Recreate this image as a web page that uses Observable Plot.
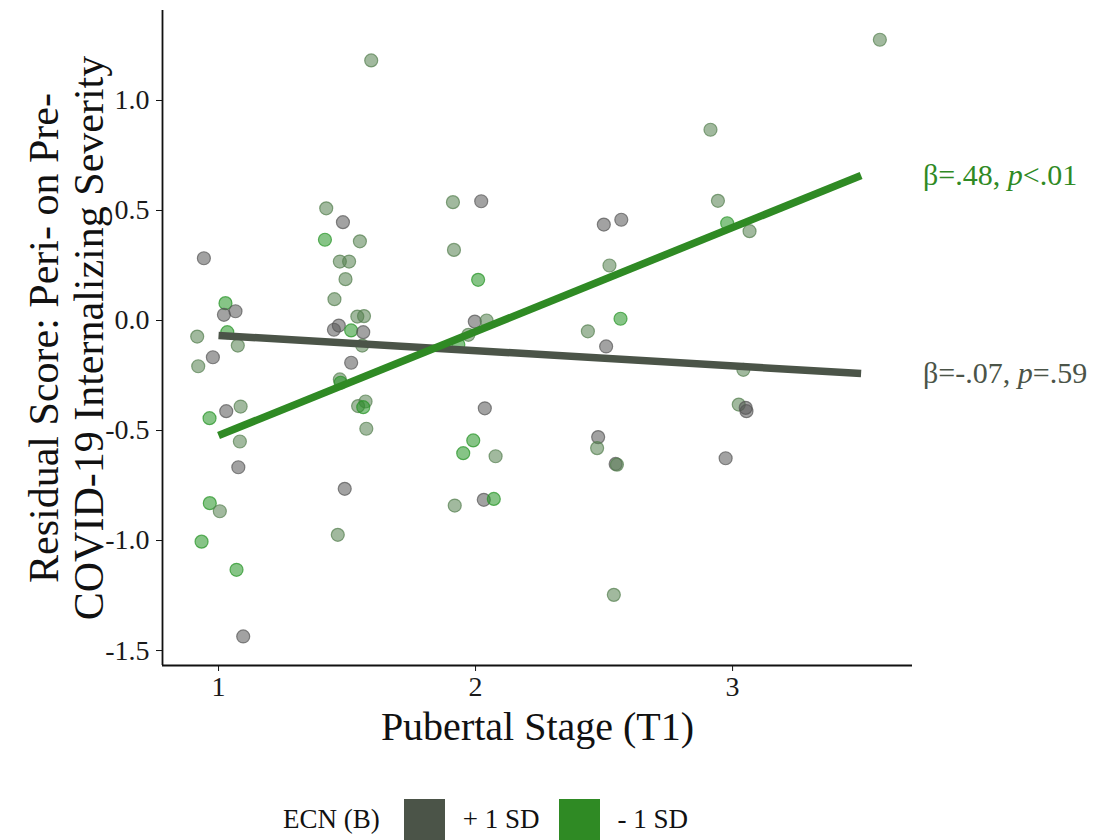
<!DOCTYPE html>
<html>
<head>
<meta charset="utf-8">
<script src="https://cdn.jsdelivr.net/npm/d3@7"></script>
<script src="https://cdn.jsdelivr.net/npm/@observablehq/plot@0.6"></script>
<style>
  html, body { margin: 0; padding: 0; background: #fff; }
  body { width: 1097px; font-family: "Liberation Serif", "DejaVu Serif", serif; }
  #legend { display: flex; align-items: center; height: 41px; padding-top: 39px; margin-left: 283px; font-size: 27px; color: #111; }
  #legend .sw { width: 41px; height: 41px; }
</style>
</head>
<body>
<div id="chart"></div>
<div id="legend"></div>
<script>
// ---- data ----
const stageX = [0.943,1.027,1.021,1.066,0.917,1.034,1.075,0.978,0.921,0.965,1.030,1.086,1.083,1.077,0.966,1.005,0.934,1.070,1.096,
  1.419,1.484,1.414,1.550,1.472,1.508,1.494,1.451,1.449,1.468,1.516,1.540,1.566,1.563,1.559,1.516,1.472,1.475,1.543,1.572,1.563,1.575,1.491,1.464,1.594,
  1.912,2.022,1.916,2.010,1.997,2.043,1.972,1.933,2.036,1.991,1.952,2.078,2.032,2.071,1.919,
  2.499,2.567,2.521,2.564,2.437,2.508,2.477,2.473,2.545,2.550,2.538,
  2.914,2.943,2.979,3.066,3.042,3.024,3.051,3.054,2.973,3.573];
const residY = [0.283,0.079,0.026,0.042,-0.073,-0.053,-0.114,-0.167,-0.208,-0.444,-0.412,-0.391,-0.550,-0.667,-0.830,-0.867,-1.005,-1.133,-1.436,
  0.510,0.447,0.367,0.360,0.268,0.268,0.188,0.097,-0.042,-0.023,-0.045,0.018,0.020,-0.053,-0.114,-0.192,-0.268,-0.283,-0.389,-0.368,-0.394,-0.492,-0.765,-0.974,1.182,
  0.538,0.542,0.321,0.185,-0.005,0.000,-0.065,-0.110,-0.399,-0.545,-0.603,-0.617,-0.815,-0.811,-0.841,
  0.436,0.458,0.250,0.008,-0.049,-0.118,-0.530,-0.580,-0.652,-0.655,-1.247,
  0.867,0.544,0.442,0.406,-0.224,-0.382,-0.397,-0.412,-0.626,1.276];
// point shade: G = grey, M = mixed, B = green
const shade = ["G","B","G","G","M","B","M","G","M","B","G","M","M","G","B","M","B","B","G",
  "M","G","B","M","M","M","M","M","G","G","B","M","M","G","M","G","M","B","M","M","B","M","G","M","M",
  "M","G","M","B","G","M","M","B","G","B","B","M","G","B","M",
  "G","G","M","B","M","G","G","M","G","M","M",
  "M","M","B","M","M","M","G","G","G","M"];
const shadeKeys = ["G","M","B"];
const shadeColors = ["#555555","#547f4f","#229322"];

const lineX = [1, 3.5];
const groups = ["+ 1 SD", "- 1 SD"];
const groupColors = ["#4b5448", "#2f8a24"];
const groupLineY = [[-0.068, -0.241], [-0.523, 0.659]];
const groupStats = [["β=-.07, ", "p", "=.59"], ["β=.48, ", "p", "<.01"]];

const xTicks = [1, 2, 3];
const yTicks = [-1.5, -1.0, -0.5, 0.0, 0.5, 1.0];
const xDomain = [0.782, 3.70];
const yDomain = [-1.568, 1.409];
const xTitle = "Pubertal Stage (T1)";
const yTitleLines = ["Residual Score: Peri- on Pre-", "COVID-19 Internalizing Severity"];
const legendTitle = "ECN (B)";

// ---- build tables ----
const points = stageX.map((x, i) => ({x, y: residY[i], s: shade[i]}));
const lines = groups.flatMap((g, gi) => lineX.map((x, j) => ({g, x, y: groupLineY[gi][j]})));
const labels = groups.map((g, gi) => ({g, x: lineX[1], y: groupLineY[gi][1], parts: groupStats[gi], text: groupStats[gi].join("")}));

const fillFor = s => shadeColors[shadeKeys.indexOf(s)];
const hyphenFmt = d => d3.format(".1f")(d).replace("\u2212", "-");

const chart = Plot.plot({
  width: 1097,
  height: 760,
  marginLeft: 162,
  marginRight: 185,
  marginTop: 10,
  marginBottom: 95,
  style: {fontFamily: "Liberation Serif, serif", background: "#fff", color: "#111"},
  x: {domain: xDomain, ticks: xTicks},
  y: {domain: yDomain, ticks: yTicks},
  marks: [
    Plot.axisX({ticks: xTicks, tickFormat: d3.format("d"), fontSize: 28, tickSize: 6, tickPadding: 5, label: null, stroke: "#111", fill: "#1a1a1a"}),
    Plot.axisY({ticks: yTicks, tickFormat: hyphenFmt, fontSize: 28, tickSize: 6, tickPadding: 7, label: null, stroke: "#111", fill: "#1a1a1a"}),
    Plot.ruleX([xDomain[0]], {stroke: "#111", strokeWidth: 1.8}),
    Plot.ruleY([yDomain[0]], {stroke: "#111", strokeWidth: 1.8}),
    Plot.dot(points, {x: "x", y: "y", r: 6.5, fill: d => fillFor(d.s), fillOpacity: 0.55, stroke: d => fillFor(d.s), strokeOpacity: 0.7, strokeWidth: 1.2}),
    Plot.line(lines, {x: "x", y: "y", z: "g", stroke: d => groupColors[groups.indexOf(d.g)], strokeWidth: 7.5, strokeLinecap: "butt"}),
    Plot.text(labels, {x: "x", y: "y", text: "text", dx: 62, textAnchor: "start", fontSize: 30, fill: d => groupColors[groups.indexOf(d.g)]}),
    Plot.text([xTitle], {text: d => d, frameAnchor: "bottom", dy: 74, fontSize: 40, fill: "#111"}),
    Plot.text([yTitleLines.join("\n")], {text: d => d, frameAnchor: "left", textAnchor: "middle", dx: -96, rotate: -90, fontSize: 42, lineHeight: 1.07, fill: "#111"})
  ]
});

// italicise the "p" in the statistic labels
d3.select(chart).selectAll("text").each(function() {
  const t = this.textContent;
  const lab = labels.find(l => l.text === t);
  if (!lab) return;
  const sel = d3.select(this);
  sel.text(null);
  lab.parts.forEach((p, i) => {
    const ts = sel.append("tspan").text(p);
    if (i === 1) ts.attr("font-style", "italic");
  });
});

document.getElementById("chart").appendChild(chart);

// legend
const leg = d3.select("#legend");
leg.append("span").text(legendTitle).style("margin-right", "24px");
groups.forEach((g, i) => {
  leg.append("span").attr("class", "sw").style("background", groupColors[i]).style("margin-right", "18px");
  leg.append("span").text(g).style("margin-right", "19px");
});
</script>
</body>
</html>
